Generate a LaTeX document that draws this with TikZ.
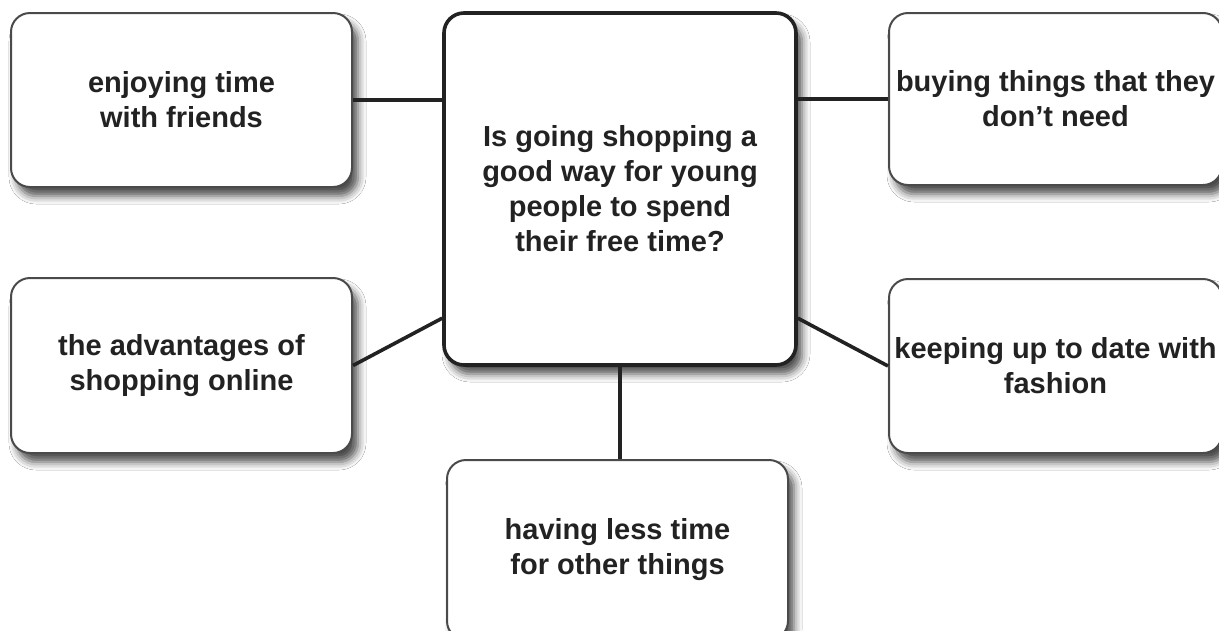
\documentclass[tikz,border=0pt]{standalone}
\usepackage{fontspec}
\setmainfont{Liberation Sans}
\usetikzlibrary{shadows.blur}
\definecolor{ink}{HTML}{222222}
\definecolor{edge}{HTML}{4A4A4A}
\begin{document}
\begin{tikzpicture}[x=1pt,y=-1pt,
  topic/.style={draw=edge,line width=2pt,rounded corners=19pt,fill=white,
    align=center,text=ink,inner sep=0pt,
    font=\bfseries\fontsize{29}{35}\selectfont,
    blur shadow={shadow xshift=6pt,shadow yshift=-9pt,shadow blur radius=8pt,shadow opacity=70}},
  hub/.style={topic,draw=ink,line width=3.6pt,rounded corners=20pt},
  link/.style={draw=ink,line width=3.6pt}]
\useasboundingbox[fill=white] (0,0) rectangle (1219,630);

% central question
\node[hub,minimum width=352pt,minimum height=352pt] (c) at (620,189)
  {Is going shopping a\\good way for young\\people to spend\\their free time?};

% surrounding ideas
\node[topic,minimum width=341pt,minimum height=174pt] (tl) at (181.5,100)
  {enjoying time\\with friends};
\node[topic,minimum width=341pt,minimum height=175pt] (ml) at (181.5,365.5)
  {the advantages of\\shopping online};
\node[topic,minimum width=333pt,minimum height=172pt] (tr) at (1055.5,99)
  {buying things that they\\don’t need};
\node[topic,minimum width=333pt,minimum height=174pt] (mr) at (1055.5,366)
  {keeping up to date with\\fashion};
\node[topic,minimum width=341pt,minimum height=180pt] (b) at (617.5,550)
  {having less time\\for other things};

% connectors
\draw[link] (tl.east) -- (tl.east -| c.west);
\draw[link] (tr.west) -- (tr.west -| c.east);
\draw[link] (ml.east) -- (c.216);
\draw[link] (mr.west) -- (c.-36);
\draw[link] (c.south) -- (c.south |- b.north);
\end{tikzpicture}
\end{document}
